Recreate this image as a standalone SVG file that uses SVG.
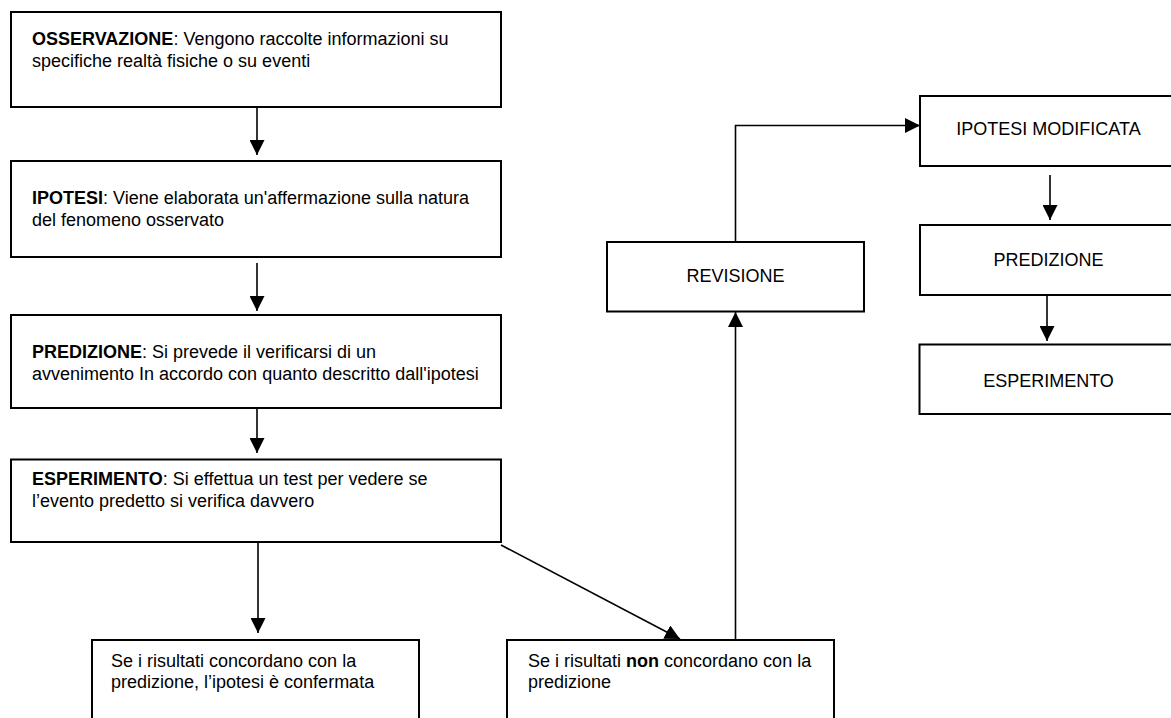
<svg xmlns="http://www.w3.org/2000/svg" width="1171" height="718" viewBox="0 0 1171 718">
<style>
.box{fill:#fff;stroke:#000;stroke-width:2}
.t{font-family:"Liberation Sans",Arial,sans-serif;font-size:18px;fill:#000}
.c{text-anchor:middle}
.b{font-weight:bold}
.ln{fill:none;stroke:#000;stroke-width:1.6}
</style>
<defs>
<marker id="ah" markerUnits="userSpaceOnUse" markerWidth="15" markerHeight="15" refX="15" refY="7.5" orient="auto" viewBox="0 0 15 15">
<path d="M0,0 L15,7.5 L0,15 z" fill="#000"/>
</marker>
</defs>
<rect width="1171" height="718" fill="#fff"/>
<g id="connectors">
<line class="ln" x1="257" y1="107" x2="257" y2="155" marker-end="url(#ah)"/>
<line class="ln" x1="257" y1="263" x2="257" y2="311" marker-end="url(#ah)"/>
<line class="ln" x1="257" y1="408" x2="257" y2="453" marker-end="url(#ah)"/>
<line class="ln" x1="258" y1="542" x2="258" y2="633" marker-end="url(#ah)"/>
<line class="ln" x1="501" y1="545" x2="680" y2="639" marker-end="url(#ah)"/>
<line class="ln" x1="735.5" y1="640" x2="735.5" y2="312" marker-end="url(#ah)"/>
<polyline class="ln" points="735.5,242 735.5,125.5 920,125.5" marker-end="url(#ah)"/>
<line class="ln" x1="1050" y1="175" x2="1050" y2="220" marker-end="url(#ah)"/>
<line class="ln" x1="1047" y1="295" x2="1047" y2="341" marker-end="url(#ah)"/>
</g>
<g id="osservazione">
<rect class="box" x="11" y="12" width="490" height="95"/>
<text class="t" x="32" y="45"><tspan class="b">OSSERVAZIONE</tspan>: Vengono raccolte informazioni su</text>
<text class="t" x="32" y="66.5">specifiche realtà fisiche o su eventi</text>
</g>
<g id="ipotesi">
<rect class="box" x="11" y="161" width="490" height="96"/>
<text class="t" x="32" y="204"><tspan class="b">IPOTESI</tspan>: Viene elaborata un'affermazione sulla natura</text>
<text class="t" x="32" y="225.5">del fenomeno osservato</text>
</g>
<g id="predizione">
<rect class="box" x="11" y="315" width="490" height="93"/>
<text class="t" x="32" y="358"><tspan class="b">PREDIZIONE</tspan>: Si prevede il verificarsi di un</text>
<text class="t" x="32" y="380">avvenimento In accordo con quanto descritto dall'ipotesi</text>
</g>
<g id="esperimento">
<rect class="box" x="11" y="459.5" width="490" height="82.5"/>
<text class="t" x="32" y="485"><tspan class="b">ESPERIMENTO</tspan>: Si effettua un test per vedere se</text>
<text class="t" x="32" y="506.5">l’evento predetto si verifica davvero</text>
</g>
<g id="confermata">
<rect class="box" x="92" y="640" width="327" height="100"/>
<text class="t" x="111" y="666.5">Se i risultati concordano con la</text>
<text class="t" x="111" y="688">predizione, l’ipotesi è confermata</text>
</g>
<g id="non-concordano">
<rect class="box" x="507" y="640" width="327" height="100"/>
<text class="t" x="528" y="666.5">Se i risultati <tspan class="b">non</tspan> concordano con la</text>
<text class="t" x="528" y="688">predizione</text>
</g>
<g id="revisione">
<rect class="box" x="607" y="242" width="257" height="69.5"/>
<text class="t c" x="735.5" y="282">REVISIONE</text>
</g>
<g id="ipotesi-modificata">
<rect class="box" x="920" y="96" width="257" height="70"/>
<text class="t c" x="1048.5" y="135">IPOTESI MODIFICATA</text>
</g>
<g id="predizione-2">
<rect class="box" x="920" y="225" width="257" height="70"/>
<text class="t c" x="1048.5" y="265.5">PREDIZIONE</text>
</g>
<g id="esperimento-2">
<rect class="box" x="919.5" y="344.5" width="257" height="69.5"/>
<text class="t c" x="1048.5" y="387">ESPERIMENTO</text>
</g>
</svg>
